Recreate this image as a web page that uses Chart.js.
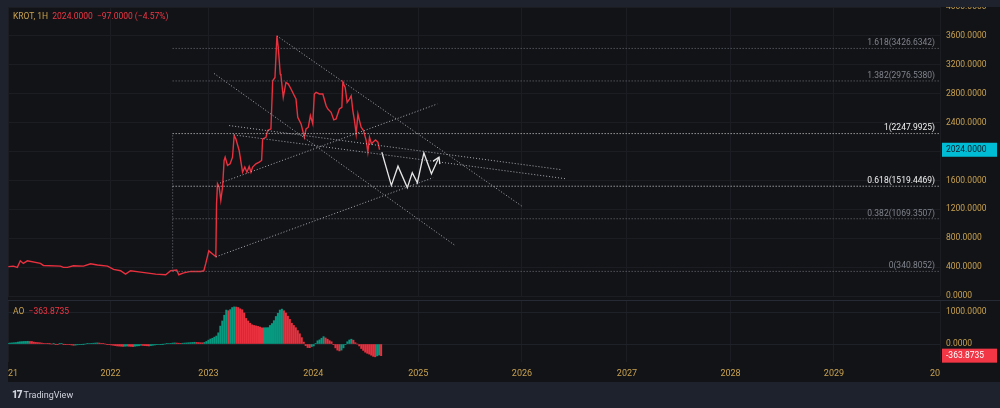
<!DOCTYPE html>
<html>
<head>
<meta charset="utf-8">
<script src="https://cdn.jsdelivr.net/npm/chart.js@4.4.1/dist/chart.umd.min.js"></script>
<style>
  html, body { margin: 0; padding: 0; background: #1e222d; }
  #frame { position: relative; width: 1000px; height: 408px; background: #1e222d; overflow: hidden; font-family: Roboto, 'Liberation Sans', sans-serif; }
  #panel { position: absolute; left: 8px; top: 7px; width: 992px; height: 375px; background: #121317; }
  #mainWrap { position: absolute; left: 8px; top: 7px; width: 992px; height: 293px; }
  #sep { position: absolute; left: 8px; top: 300px; width: 992px; height: 1px; background: #262a35; }
  #aoWrap { position: absolute; left: 8px; top: 301px; width: 992px; height: 81px; }
  #axisCorner { position: absolute; left: 940px; top: 363px; width: 60px; height: 19px; background: #121317; }
  .legend { position: absolute; left: 13px; font-size: 8.5px; white-space: pre; }
  .gold { color: #c9a24e; }
  .red { color: #f23645; }
  #logo { position: absolute; left: 12px; top: 389px; color: #d1d4dc; font-size: 9px; }
  #logo b { font-weight: 900; font-size: 10px; letter-spacing: -1px; margin-right: 2px; }
</style>
</head>
<body>
<div id="frame">
  <div id="panel"></div>
  <div id="mainWrap"><canvas id="mainChart"></canvas></div>
  <div id="sep"></div>
  <div id="aoWrap"><canvas id="aoChart"></canvas></div>
  <div id="axisCorner"></div>
  <div class="legend" style="top:11px"><span class="gold">KROT, 1H  </span><span class="red">2024.0000  −97.0000 (−4.57%)</span></div>
  <div class="legend" style="top:306px"><span class="gold">AO  </span><span class="red">−363.8735</span></div>
  <div id="logo"><b>17</b>TradingView</div>
</div>
<script>
// Données (axe du temps en années décimales, échelle par barres)
const priceYears = [2021.003, 2021.051, 2021.090, 2021.119, 2021.148, 2021.187, 2021.313, 2021.342, 2021.506, 2021.535,
    2021.574, 2021.632, 2021.729, 2021.797, 2021.864, 2021.961, 2022.019, 2022.087, 2022.135, 2022.183,
    2022.280, 2022.426, 2022.523, 2022.571, 2022.629, 2022.649, 2022.697, 2022.765, 2022.861, 2022.891,
    2022.910, 2022.939, 2022.978, 2023.007, 2023.014, 2023.023, 2023.039, 2023.055, 2023.072, 2023.087,
    2023.097, 2023.120, 2023.145, 2023.168, 2023.184, 2023.200, 2023.232, 2023.265, 2023.287, 2023.307,
    2023.329, 2023.346, 2023.362, 2023.394, 2023.426, 2023.449, 2023.459, 2023.491, 2023.507, 2023.539,
    2023.556, 2023.578, 2023.597, 2023.610, 2023.629, 2023.636, 2023.658, 2023.684, 2023.707, 2023.733,
    2023.765, 2023.781, 2023.798, 2023.830, 2023.862, 2023.878, 2023.900, 2023.920, 2023.943, 2023.958,
    2023.975, 2024.007, 2024.040, 2024.072, 2024.088, 2024.120, 2024.146, 2024.168, 2024.200, 2024.224,
    2024.233, 2024.256, 2024.275, 2024.297, 2024.314, 2024.330, 2024.346, 2024.362, 2024.379, 2024.394,
    2024.410, 2024.433, 2024.459, 2024.475, 2024.491, 2024.510, 2024.524, 2024.549, 2024.572, 2024.588];
const priceValues = [407, 414, 396, 487, 451, 487, 451, 423, 414, 396,
    396, 418, 414, 446, 430, 414, 368, 349, 303, 349,
    331, 303, 294, 349, 359, 294, 321, 340, 340, 349,
    451, 625, 579, 545, 1279, 1554, 1508, 1324, 1508, 1876,
    1921, 1807, 1830, 1921, 2221, 2175, 2014, 1714, 1784, 1714,
    1793, 1714, 1784, 1830, 1853, 1876, 2175, 2197, 2290, 2313,
    2979, 3025, 3600, 3439, 3072, 3048, 2749, 2956, 2933, 2865,
    2772, 2726, 2473, 2382, 2197, 2313, 2336, 2497, 2382, 2796,
    2818, 2796, 2796, 2634, 2589, 2542, 2437, 2450, 2589, 2612,
    2956, 2887, 2680, 2726, 2772, 2566, 2428, 2244, 2520, 2428,
    2336, 2290, 2152, 1990, 2197, 2106, 2129, 2161, 2129, 2024];
const lastPrice = 2024.0;

// Projection dessinée à la main (flèche blanche)
const projYears = [2024.61, 2024.702, 2024.766, 2024.856, 2024.904, 2024.953, 2025.016, 2025.089, 2025.162];
const projValues = [1990, 1531, 1797, 1500, 1706, 1568, 1980, 1692, 1921];

// Lignes de tendance : [année, prix] début -> fin
const trendStarts = [[2023.597, 3600], [2022.990, 3080], [2023.136, 2359], [2023.181, 2230], [2023.048, 1563], [2023.007, 542]];
const trendEnds = [[2025.974, 1232], [2025.314, 703], [2026.347, 1748], [2026.386, 1623], [2025.146, 2658], [2025.105, 1637]];

// Retracement de Fibonacci
const fibRatios = [1.618, 1.382, 1, 0.618, 0.382, 0];
const fibPrices = [3426.6342, 2976.5380, 2247.9925, 1519.4469, 1069.3507, 340.8052];
const fibStartYear = 2022.59;

// Awesome Oscillator, une barre par semaine depuis début 2021
const aoStart = 2021.0;
const aoStep = 7 / 365.25;
const aoValues = [25, 30, 35, 40, 45, 60, 70, 75, 80, 82,
    85, 80, 78, 60, 50, 45, 40, 30, 20, 15,
    10, 5, 0, 5, -5, -10, 5, 10, -5, -10,
    -15, -20, -30, -40, -35, -25, -20, -10, -5, 0,
    10, 15, 20, 25, 30, 35, 30, 20, 10, 0,
    -10, -20, -30, -40, -50, -60, -65, -70, -75, -70,
    -65, -70, -75, -80, -70, -60, -55, -40, -45, -50,
    -55, -60, -50, -40, -30, -20, -15, -10, -5, 0,
    10, 15, 20, 30, 35, 30, 25, 20, 25, 30,
    35, 40, 45, 50, 55, 50, 45, 40, 38, 50,
    80, 120, 155, 180, 215, 250, 350, 560, 720, 900,
    1060, 1040, 1075, 1140, 1160, 1155, 1140, 1100, 1070, 970,
    800, 720, 650, 600, 580, 565, 550, 530, 505, 508,
    510, 512, 580, 640, 730, 860, 960, 1060, 1090, 1040,
    970, 870, 770, 650, 580, 510, 420, 320, 200, 60,
    -50, -110, -115, -80, -60, 20, 100, 130, 180, 230,
    190, 150, 105, 70, -10, -120, -190, -215, -190, -120,
    -20, 70, 125, 150, 120, 40, 0, -60, -140, -200,
    -255, -290, -315, -350, -385, -400, -370, -345, -363.8735];

// Graduations de l'axe du temps (l'échelle TradingView suit les barres, pas le calendrier)
const yearLabels = ['2021', '2022', '2023', '2024', '2025', '2026', '2027', '2028', '2029', '2030'];
const yearTickAt = [2021.0, 2021.990, 2022.936, 2023.948, 2024.962, 2025.963, 2026.977, 2027.977, 2028.976, 2030.0];

const axisText = '#c9a24e';
const gridColor = '#1b1d23';
const axisFont = { family: 'Roboto', size: 8.5 };

function pts(xs, ys) {
    return xs.map((x, i) => ({ x, y: ys[i] }));
}

const fibLabelPlugin = {
    id: 'fibLabels',
    afterDatasetsDraw(chart) {
        const { ctx, chartArea, scales } = chart;
        ctx.save();
        ctx.font = '8.5px Roboto';
        ctx.textAlign = 'right';
        ctx.textBaseline = 'bottom';
        fibRatios.forEach((r, i) => {
            const y = scales.y.getPixelForValue(fibPrices[i]);
            const bright = r === 1 || r === 0.618;
            ctx.fillStyle = bright ? '#f0f0f0' : '#80838c';
            ctx.fillText(r + '(' + fibPrices[i].toFixed(4) + ')', chartArea.right - 5, y - 1);
        });
        ctx.restore();
    }
};

const arrowHeadPlugin = {
    id: 'arrowHead',
    afterDatasetsDraw(chart) {
        const { ctx, scales } = chart;
        const n = projYears.length;
        const x1 = scales.x.getPixelForValue(projYears[n - 2]);
        const y1 = scales.y.getPixelForValue(projValues[n - 2]);
        const x2 = scales.x.getPixelForValue(projYears[n - 1]);
        const y2 = scales.y.getPixelForValue(projValues[n - 1]);
        const a = Math.atan2(y2 - y1, x2 - x1);
        ctx.save();
        ctx.strokeStyle = '#e6e6e6';
        ctx.lineWidth = 1.3;
        ctx.beginPath();
        ctx.moveTo(x2 - 7 * Math.cos(a - 0.55), y2 - 7 * Math.sin(a - 0.55));
        ctx.lineTo(x2, y2);
        ctx.lineTo(x2 - 7 * Math.cos(a + 0.55), y2 - 7 * Math.sin(a + 0.55));
        ctx.stroke();
        ctx.restore();
    }
};

function axisTag(value, bg, fg) {
    return {
        id: 'tag' + bg.replace('#', ''),
        afterDraw(chart) {
            const { ctx, chartArea, scales } = chart;
            const y = scales.y.getPixelForValue(value);
            ctx.save();
            ctx.fillStyle = bg;
            ctx.fillRect(chartArea.right + 2, y - 7, 55, 14);
            ctx.fillStyle = fg;
            ctx.font = '8.5px Roboto';
            ctx.textBaseline = 'middle';
            ctx.textAlign = 'left';
            ctx.fillText(value.toFixed(4), chartArea.right + 6, y + 0.5);
            ctx.restore();
        }
    };
}

function dotted(data, color) {
    return {
        data, borderColor: color, borderWidth: 1, borderDash: [1, 2],
        pointRadius: 0, tension: 0, fill: false
    };
}

const yearTicks = (s) => { s.ticks = yearTickAt.map(v => ({ value: v })); };

function initMainChart() {
    const ctx = document.getElementById('mainChart').getContext('2d');
    const datasets = [];

    fibPrices.forEach((p, i) => {
        const bright = fibRatios[i] === 1 || fibRatios[i] === 0.618;
        datasets.push(dotted([{ x: fibStartYear, y: p }, { x: 2030, y: p }], bright ? '#d8d8d8' : '#6f727a'));
    });
    datasets.push(dotted([{ x: fibStartYear, y: fibPrices[5] }, { x: fibStartYear, y: fibPrices[2] }], '#6f727a'));

    trendStarts.forEach((s, i) => {
        datasets.push(dotted([{ x: s[0], y: s[1] }, { x: trendEnds[i][0], y: trendEnds[i][1] }], '#a9acb4'));
    });

    datasets.push({
        data: pts(priceYears, priceValues), borderColor: '#e8303e', borderWidth: 1.4,
        pointRadius: 0, tension: 0, fill: false
    });
    datasets.push({
        data: pts(projYears, projValues), borderColor: '#e6e6e6', borderWidth: 1.3,
        pointRadius: 0, tension: 0, fill: false
    });

    return new Chart(ctx, {
        type: 'line',
        data: { datasets },
        options: {
            responsive: true,
            maintainAspectRatio: false,
            animation: false,
            layout: { padding: { left: 0, right: 0, top: 0, bottom: 4 } },
            plugins: { legend: { display: false }, tooltip: { enabled: false } },
            scales: {
                x: {
                    type: 'linear', min: 2021, max: 2030,
                    afterBuildTicks: yearTicks,
                    ticks: { display: false },
                    grid: { color: gridColor, drawTicks: false },
                    border: { display: false },
                    afterFit: (s) => { s.height = 0; s.paddingLeft = 0; s.paddingRight = 0; }
                },
                y: {
                    position: 'right', min: 0, max: 4000,
                    ticks: { stepSize: 400, color: axisText, font: axisFont, padding: 6, callback: (v) => v.toFixed(4) },
                    grid: { color: gridColor, drawTicks: false },
                    border: { display: false },
                    afterFit: (s) => { s.width = 60; s.paddingTop = 0; s.paddingBottom = 0; }
                }
            }
        },
        plugins: [fibLabelPlugin, arrowHeadPlugin, axisTag(lastPrice, '#00bcd4', '#0d1a26')]
    });
}

function initAoChart() {
    const ctx = document.getElementById('aoChart').getContext('2d');
    const colors = aoValues.map((v, i) => (i === 0 || v > aoValues[i - 1]) ? '#089981' : '#e8303e');

    return new Chart(ctx, {
        type: 'bar',
        data: {
            datasets: [{
                data: aoValues.map((v, i) => ({ x: aoStart + i * aoStep, y: v })),
                backgroundColor: colors,
                borderWidth: 0,
                barThickness: 1.4
            }]
        },
        options: {
            responsive: true,
            maintainAspectRatio: false,
            animation: false,
            layout: { padding: 0 },
            plugins: { legend: { display: false }, tooltip: { enabled: false } },
            scales: {
                x: {
                    type: 'linear', min: 2021, max: 2030, offset: false,
                    afterBuildTicks: yearTicks,
                    ticks: { color: axisText, font: { family: 'Roboto', size: 9 }, padding: 6, maxRotation: 0, autoSkip: false, callback: (v, i) => yearLabels[i] },
                    grid: { color: gridColor, drawTicks: false, offset: false },
                    border: { display: false },
                    afterFit: (s) => { s.height = 20; s.paddingLeft = 0; s.paddingRight = 0; }
                },
                y: {
                    position: 'right', min: -562, max: 1344,
                    afterBuildTicks: (s) => { s.ticks = [{ value: 0 }, { value: 1000 }]; },
                    ticks: { color: axisText, font: axisFont, padding: 6, callback: (v) => v.toFixed(4) },
                    grid: { color: '#1f2128', drawTicks: false },
                    border: { display: false },
                    afterFit: (s) => { s.width = 60; s.paddingTop = 0; s.paddingBottom = 0; }
                }
            }
        },
        plugins: [axisTag(aoValues[aoValues.length - 1], '#f23645', '#ffffff')]
    });
}

initMainChart();
initAoChart();
</script>
</body>
</html>
